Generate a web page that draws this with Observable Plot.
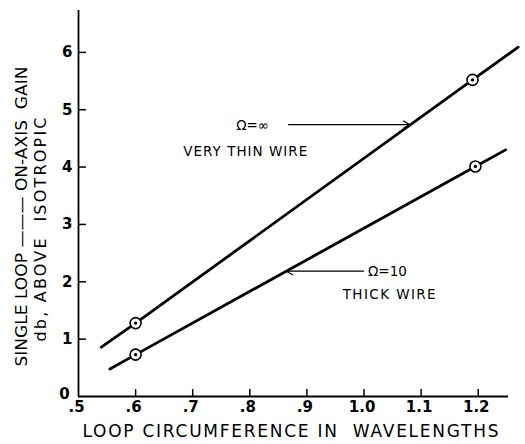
<!DOCTYPE html>
<html><head><meta charset="utf-8">
<script src="https://cdn.jsdelivr.net/npm/d3@7"></script>
<script src="https://cdn.jsdelivr.net/npm/@observablehq/plot@0.6"></script>
<style>body{margin:0;background:#fff}</style>
</head><body><div id="chart"></div>
<script>
// Data
const thinLineX = [0.54, 0.60, 1.19, 1.27];
const thinLineY = [0.86, 1.28, 5.52, 6.09];
const thickLineX = [0.555, 0.60, 1.195, 1.248];
const thickLineY = [0.48, 0.73, 4.01, 4.30];
const thinPtX = [0.60, 1.19];
const thinPtY = [1.28, 5.52];
const thickPtX = [0.60, 1.195];
const thickPtY = [0.73, 4.01];
const xTicks = [0.5, 0.6, 0.7, 0.8, 0.9, 1.0, 1.1, 1.2];
const xTickLabels = [".5", ".6", ".7", ".8", ".9", "1.0", "1.1", "1.2"];
const yTicks = [0, 1, 2, 3, 4, 5, 6];
const yTickLabels = ["0", "1", "2", "3", "4", "5", "6"];
const annText = ["Ω=∞", "VERY THIN WIRE", "Ω=10", "THICK WIRE"];
const annX = [0.805, 0.792, 1.041, 1.044];
const annY = [4.73, 4.27, 2.18, 1.78];
const arrowX1 = [0.868, 0.999];
const arrowX2 = [1.080, 0.864];
const arrowY = [4.74, 2.185];
const xDomain = [0.5, 1.253];
const yDomain = [0, 6.73];
const xTitle = "LOOP CIRCUMFERENCE IN  WAVELENGTHS";
const yTitle1 = "SINGLE LOOP ——— ON-AXIS  GAIN";
const yTitle2 = "db, ABOVE  ISOTROPIC";

const toRows = (xs, ys) => xs.map((x, i) => ({x, y: ys[i]}));
const thin = toRows(thinLineX, thinLineY);
const thick = toRows(thickLineX, thickLineY);
const pts = toRows(thinPtX, thinPtY).concat(toRows(thickPtX, thickPtY));
const ann = annText.map((t, i) => ({t, x: annX[i], y: annY[i]}));
const arrows = arrowX1.map((x1, i) => ({x1, x2: arrowX2[i], y: arrowY[i]}));

const plot = Plot.plot({
  width: 525, height: 444,
  marginLeft: 78, marginRight: 17, marginTop: 10, marginBottom: 48,
  style: {fontFamily: "DejaVu Sans", fontSize: "15px", color: "black", background: "white"},
  x: {domain: xDomain, axis: null},
  y: {domain: yDomain, axis: null},
  marks: [
    Plot.ruleX([xDomain[0]], {y1: yDomain[0], y2: yDomain[1], strokeWidth: 1.8}),
    Plot.ruleY([yDomain[0]], {x1: xDomain[0], x2: xDomain[1], strokeWidth: 1.8}),
    Plot.ruleY(yTicks.slice(1), {y: d => d, x1: xDomain[0], x2: xDomain[0] + 0.014, strokeWidth: 1.5}),
    Plot.ruleX(xTicks.slice(1), {x: d => d, y1: yDomain[0], y2: yDomain[0] + 0.12, strokeWidth: 1.5}),
    Plot.axisY(yTicks.slice(1), {anchor: "left", tickSize: 0, tickPadding: 6, label: null,
      tickFormat: d => yTickLabels[yTicks.indexOf(d)], fontSize: 15, fontWeight: "bold"}),
    Plot.text([yTicks[0]], {x: xDomain[0], y: d => d, text: d => yTickLabels[yTicks.indexOf(d)],
      dx: -14, dy: -2, fontSize: 15, fontWeight: "bold", fill: "black"}),
    Plot.axisX(xTicks, {anchor: "bottom", tickSize: 0, tickPadding: 5, label: null,
      tickFormat: d => xTickLabels[xTicks.indexOf(d)], fontSize: 15, fontWeight: "bold", dx: -2}),
    Plot.line(thin, {x: "x", y: "y", strokeWidth: 2.8, stroke: "black"}),
    Plot.line(thick, {x: "x", y: "y", strokeWidth: 2.8, stroke: "black"}),
    Plot.dot(pts, {x: "x", y: "y", r: 5.5, stroke: "black", strokeWidth: 1.6, fill: "white"}),
    Plot.dot(pts, {x: "x", y: "y", r: 1.7, fill: "black"}),
    Plot.arrow(arrows, {x1: "x1", x2: "x2", y1: "y", y2: "y", headLength: 9, strokeWidth: 1.2, stroke: "black"}),
    Plot.text(ann, {x: "x", y: "y", text: "t", fontSize: 13.5, fill: "black"}),
    Plot.text([xTitle], {frameAnchor: "bottom", textAnchor: "middle", lineAnchor: "middle", dy: 35.5, dx: -3, fontSize: 17, fill: "black"}),
    Plot.text([yTitle1], {frameAnchor: "left", textAnchor: "middle", lineAnchor: "middle", rotate: -90, dx: -57, dy: 13, fontSize: 16, fill: "black"}),
    Plot.text([yTitle2], {frameAnchor: "left", textAnchor: "middle", lineAnchor: "middle", rotate: -90, dx: -38, dy: 26, fontSize: 16, fill: "black"})
  ]
});

const lengths = new Map([
  [xTitle, [416, "spacing"]], [yTitle1, [300, "spacingAndGlyphs"]], [yTitle2, [224, "spacing"]],
  ["VERY THIN WIRE", [124, "spacing"]], ["THICK WIRE", [93, "spacing"]]
]);
plot.querySelectorAll("text").forEach(el => {
  const L = lengths.get(el.textContent);
  if (L) { el.setAttribute("textLength", L[0]); el.setAttribute("lengthAdjust", L[1]); }
});
document.getElementById("chart").appendChild(plot);
</script>
</body></html>
